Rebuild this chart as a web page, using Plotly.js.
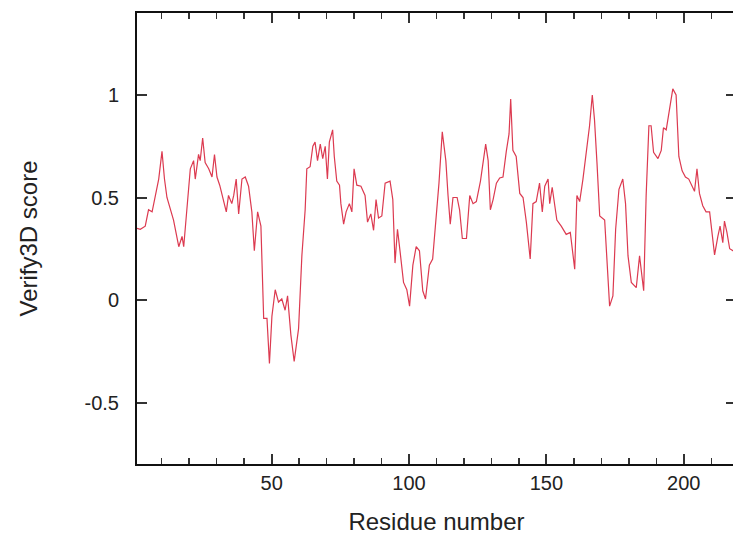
<!DOCTYPE html>
<html>
<head>
<meta charset="utf-8">
<script src="https://cdn.plot.ly/plotly-3.0.1.min.js"></script>
<style>html,body{margin:0;padding:0;overflow:hidden;background:#fff;}</style>
</head>
<body>
<div id="chart"></div>
<script>
// Residue numbers
const residues = [
  1, 2.2, 4, 5.2, 6.5, 7.7, 8.9, 10.1, 11, 11.9, 14.3, 16.2, 17.4, 18, 19.2, 20.4, 21.6, 22.2, 23.4, 24,
  24.9, 25.8, 27.1, 28.3, 29.2, 30.1, 31.1, 32.3, 33.5, 34.3, 35.5, 36.2, 37.1, 38, 39.2, 40.4, 41.6, 42.8, 43.7, 44.9,
  46.1, 47.1, 48.3, 49.2, 50.1, 51.3, 52.5, 53.7, 54.9, 55.8, 57, 58.2, 59.8, 61, 62.2, 62.8, 64, 65, 65.8, 66.7,
  67.7, 68.6, 69.5, 70.3, 71, 72.2, 72.8, 73.7, 74.7, 75.2, 76.2, 77.1, 78.3, 79.2, 80, 81, 82.5, 84, 84.9, 86.1,
  87.1, 88, 88.9, 90.1, 91.3, 93.1, 94.1, 94.9, 95.8, 96.8, 98, 99.2, 100.2, 101.4, 102.6, 103.8, 105, 106, 107.4, 108.6,
  109.7, 110.9, 112.1, 113.4, 114.2, 115, 116, 117.5, 118.4, 119.4, 120.9, 122.1, 123.3, 124.5, 126, 126.9, 127.9, 128.8, 129.6, 130.6,
  131.8, 133, 134.2, 135.4, 136.4, 137, 137.8, 139, 140.3, 141.5, 142.7, 144.1, 145.1, 146.3, 147.5, 148.5, 149.4, 150.6, 151.2, 152.1,
  153, 153.8, 155.4, 157.2, 158.7, 159.4, 160.3, 161.1, 162.1, 163.3, 164.5, 165.7, 166.7, 167.5, 168.4, 169.4, 171.2, 172, 173, 174.2,
  175.2, 176.4, 177.8, 178.8, 179.7, 180.9, 182.7, 183.9, 184.5, 185.4, 186.3, 187.3, 188.1, 189, 190.6, 191.8, 192.6, 193.6, 194.8, 196,
  197.2, 198.2, 199.4, 200.6, 201.8, 203.1, 203.9, 204.8, 205.7, 206.9, 208.1, 209.4, 210.3, 211.2, 212.4, 213.2, 214.2, 214.8, 215.7, 216.7,
  217.9, 219
];
// Verify3D scores
const scores = [
  0.35, 0.345, 0.36, 0.44, 0.43, 0.52, 0.59, 0.725, 0.59, 0.50, 0.39, 0.26, 0.31, 0.26, 0.44, 0.64, 0.68, 0.59, 0.71, 0.68,
  0.79, 0.67, 0.64, 0.60, 0.71, 0.60, 0.56, 0.50, 0.43, 0.51, 0.47, 0.51, 0.59, 0.42, 0.59, 0.60, 0.555, 0.43, 0.24, 0.43,
  0.36, -0.09, -0.09, -0.31, -0.08, 0.05, -0.01, 0.005, -0.05, 0.02, -0.17, -0.30, -0.14, 0.215, 0.44, 0.64, 0.65, 0.75, 0.77, 0.68,
  0.76, 0.69, 0.75, 0.59, 0.77, 0.83, 0.70, 0.58, 0.56, 0.47, 0.37, 0.43, 0.47, 0.43, 0.64, 0.56, 0.555, 0.51, 0.38, 0.42,
  0.34, 0.49, 0.40, 0.41, 0.57, 0.58, 0.49, 0.18, 0.345, 0.23, 0.086, 0.05, -0.03, 0.17, 0.26, 0.24, 0.045, 0.005, 0.17, 0.20,
  0.36, 0.57, 0.82, 0.68, 0.51, 0.37, 0.50, 0.50, 0.44, 0.30, 0.30, 0.51, 0.47, 0.48, 0.58, 0.67, 0.76, 0.68, 0.44, 0.49,
  0.57, 0.595, 0.60, 0.725, 0.81, 0.98, 0.73, 0.70, 0.52, 0.50, 0.38, 0.20, 0.47, 0.48, 0.57, 0.43, 0.555, 0.59, 0.47, 0.55,
  0.47, 0.39, 0.36, 0.32, 0.33, 0.26, 0.15, 0.51, 0.48, 0.59, 0.72, 0.85, 1.00, 0.88, 0.67, 0.41, 0.39, 0.215, -0.03, 0.02,
  0.345, 0.54, 0.59, 0.47, 0.215, 0.086, 0.06, 0.215, 0.15, 0.045, 0.51, 0.85, 0.85, 0.72, 0.69, 0.73, 0.84, 0.83, 0.93, 1.03,
  1.00, 0.70, 0.63, 0.60, 0.59, 0.555, 0.53, 0.64, 0.52, 0.46, 0.43, 0.43, 0.31, 0.22, 0.31, 0.36, 0.28, 0.385, 0.33, 0.25,
  0.24, 0.23
];
const yTickVals = [-0.5, 0, 0.5, 1];
const yTickText = ['-0.5', '0', '0.5', '1'];

Plotly.newPlot('chart', [{
  x: residues,
  y: scores,
  type: 'scatter',
  mode: 'lines',
  line: {color: '#dc3a50', width: 1.2}
}], {
  width: 740,
  height: 551,
  margin: {l: 137, r: 4, t: 13, b: 87},
  paper_bgcolor: '#ffffff',
  plot_bgcolor: '#ffffff',
  showlegend: false,
  font: {family: 'Liberation Sans, Arial, sans-serif', color: '#222', size: 20},
  xaxis: {
    range: [1, 219],
    showgrid: false,
    zeroline: false,
    showline: true,
    linecolor: '#111',
    linewidth: 2,
    mirror: 'ticks',
    ticks: 'inside',
    ticklen: 10,
    tickwidth: 2,
    tickcolor: '#333',
    tickmode: 'linear',
    tick0: 0,
    dtick: 50,
    minor: {dtick: 10, tick0: 0, ticks: 'inside', ticklen: 6, tickwidth: 1.5, tickcolor: '#333'},
    title: {text: 'Residue number', standoff: 20}
  },
  yaxis: {
    range: [-0.8, 1.4],
    showgrid: false,
    zeroline: false,
    showline: true,
    linecolor: '#111',
    linewidth: 2,
    mirror: 'ticks',
    ticks: 'inside',
    ticklen: 10,
    tickwidth: 2,
    tickcolor: '#333',
    tickvals: yTickVals,
    ticktext: yTickText,
    ticklabelstandoff: 12,
    title: {text: 'Verify3D score', standoff: 40}
  }
}, {displayModeBar: false, staticPlot: true});
</script>
</body>
</html>
